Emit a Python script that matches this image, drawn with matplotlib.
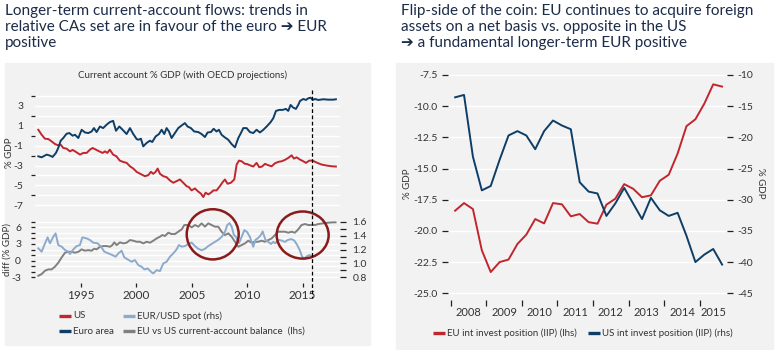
import matplotlib
matplotlib.use("Agg")
import matplotlib.pyplot as plt
from matplotlib.lines import Line2D
from matplotlib.patches import Rectangle, Ellipse
from matplotlib.ticker import FixedLocator, FormatStrFormatter

# ---- data: left chart, current account % GDP
ca_ea_years = [1991.15, 1991.45, 1991.9, 1992.2, 1992.44, 1992.74, 1992.95, 1993.17, 1993.4, 1993.7,
               1993.95, 1994.25, 1994.46, 1994.76, 1995.06, 1995.36, 1995.66, 1995.96, 1996.17, 1996.41,
               1996.71, 1997.0, 1997.3, 1997.6, 1997.9, 1998.16, 1998.46, 1998.76, 1999.12, 1999.42,
               1999.72, 1999.87, 2000.02, 2000.17, 2000.41, 2000.62, 2000.92, 2001.22, 2001.43, 2001.74,
               2002.04, 2002.28, 2002.52, 2002.73, 2002.94, 2003.18, 2003.48, 2003.78, 2004.08, 2004.38,
               2004.62, 2004.92, 2005.22, 2005.59, 2005.89, 2006.19, 2006.43, 2006.73, 2006.97, 2007.24,
               2007.45, 2007.69, 2007.99, 2008.29, 2008.59, 2008.9, 2009.2, 2009.45, 2009.65, 2009.95,
               2010.25, 2010.55, 2010.85, 2011.15, 2011.46, 2011.76, 2012.12, 2012.36, 2012.6, 2012.9,
               2013.2, 2013.5, 2013.71, 2013.92, 2014.16, 2014.4, 2014.61, 2014.77, 2015.07, 2015.31,
               2015.52, 2015.73, 2015.91, 2016.12, 2016.42, 2016.87, 2017.32, 2017.77, 2018.01]
ca_ea = [-2.07, -2.17, -1.9, -2.0, -2.13, -1.73, -1.23, -0.5, -0.23, 0.2,
         0.27, 0.0, 0.1, -0.23, 0.6, 0.33, 0.27, 0.43, 0.77, 0.37,
         0.93, 0.77, 1.1, 1.37, 1.5, 0.5, 0.93, 0.6, 0.17, 0.77,
         0.17, -0.07, -0.33, -0.4, -0.3, -1.07, -0.73, -0.5, -0.63, -0.07,
         0.17, 0.6, 0.17, 0.77, 0.43, -0.23, 0.27, 0.77, 1.03, 1.27,
         0.93, 0.77, 0.43, 0.37, 0.17, -0.13, 0.33, 0.37, 0.7, 0.43,
         0.6, 0.1, -0.17, -0.4, -0.83, -1.17, -0.23, 0.3, 0.77, 0.77,
         0.37, 0.27, 0.6, 0.33, 0.6, 0.93, 1.37, 1.77, 2.5, 2.6,
         2.6, 2.7, 2.5, 3.1, 2.83, 2.7, 3.1, 3.5, 3.7, 3.6,
         3.77, 3.83, 3.6, 3.7, 3.6, 3.67, 3.63, 3.63, 3.67]

ca_us_years = [1991.15, 1991.45, 1991.75, 1992.05, 1992.35, 1992.65, 1992.95, 1993.17, 1993.4, 1993.7,
               1994.0, 1994.25, 1994.55, 1994.91, 1995.21, 1995.51, 1995.81, 1996.05, 1996.35, 1996.65,
               1996.96, 1997.17, 1997.38, 1997.6, 1997.9, 1998.2, 1998.5, 1998.8, 1999.12, 1999.42,
               1999.72, 2000.02, 2000.47, 2000.77, 2001.07, 2001.31, 2001.52, 2001.74, 2001.92, 2002.13,
               2002.43, 2002.73, 2003.03, 2003.33, 2003.63, 2003.93, 2004.23, 2004.53, 2004.74, 2004.98,
               2005.29, 2005.53, 2005.83, 2006.04, 2006.25, 2006.49, 2006.73, 2006.94, 2007.24, 2007.54,
               2007.75, 2007.99, 2008.23, 2008.53, 2008.84, 2009.05, 2009.26, 2009.5, 2009.8, 2009.95,
               2010.25, 2010.55, 2010.85, 2011.09, 2011.34, 2011.61, 2011.91, 2012.21, 2012.51, 2012.81,
               2013.11, 2013.41, 2013.71, 2014.01, 2014.22, 2014.46, 2014.77, 2015.07, 2015.31, 2015.61,
               2015.91, 2016.27, 2016.72, 2017.17, 2017.62, 2018.01]
ca_us = [0.6, 0.1, -0.3, -0.33, -0.57, -0.83, -0.97, -0.9, -1.23, -1.3,
         -1.57, -1.43, -1.63, -1.9, -1.73, -1.73, -1.4, -1.23, -1.4, -1.57,
         -1.73, -1.57, -1.73, -1.4, -1.9, -2.07, -2.5, -2.63, -2.73, -3.07,
         -3.3, -3.63, -3.9, -4.07, -3.97, -3.63, -3.83, -3.63, -3.3, -3.83,
         -4.07, -4.17, -4.5, -4.73, -4.57, -4.4, -4.73, -5.07, -5.17, -5.5,
         -5.3, -5.57, -5.83, -6.17, -5.73, -5.9, -5.73, -5.5, -5.5, -5.07,
         -4.73, -4.4, -4.83, -4.73, -4.4, -2.9, -2.5, -2.57, -2.83, -2.83,
         -2.97, -3.1, -2.73, -3.17, -3.1, -2.83, -2.97, -3.07, -2.77, -2.63,
         -2.57, -2.43, -2.23, -1.97, -2.3, -2.17, -2.4, -2.57, -2.73, -2.5,
         -2.5, -2.7, -2.9, -3.0, -3.07, -3.1]

# EU vs US current-account balance (lhs, % GDP)
diff_years = [1991.15, 1991.45, 1991.75, 1992.05, 1992.35, 1992.65, 1992.95, 1993.26, 1993.56, 1993.86,
              1994.16, 1994.46, 1994.76, 1995.06, 1995.36, 1995.66, 1995.96, 1996.2, 1996.41, 1996.71,
              1997.02, 1997.32, 1997.62, 1997.83, 1998.01, 1998.22, 1998.52, 1998.82, 1999.12, 1999.42,
              1999.72, 2000.02, 2000.32, 2000.63, 2000.93, 2001.23, 2001.53, 2001.83, 2002.13, 2002.34,
              2002.58, 2002.88, 2003.18, 2003.48, 2003.78, 2004.09, 2004.33, 2004.69, 2004.99, 2005.29,
              2005.59, 2005.89, 2006.19, 2006.49, 2006.79, 2007.09, 2007.39, 2007.69, 2007.99, 2008.3,
              2008.6, 2008.9, 2009.2, 2009.5, 2009.8, 2010.1, 2010.4, 2010.7, 2011.0, 2011.3,
              2011.6, 2011.91, 2012.21, 2012.51, 2012.81, 2013.11, 2013.41, 2013.71, 2014.01, 2014.31,
              2014.61, 2014.91, 2015.22, 2015.52, 2015.82, 2016.12, 2016.42, 2016.87, 2017.32, 2017.77,
              2017.98]
ca_diff = [-2.7, -2.4, -1.8, -1.56, -1.56, -1.08, -0.37, 0.6, 1.43, 1.6,
           1.6, 1.43, 1.6, 2.03, 1.79, 1.9, 1.79, 2.15, 2.03, 2.5,
           2.63, 2.63, 2.5, 2.8, 3.29, 2.8, 3.29, 3.1, 3.23, 3.7,
           3.59, 3.4, 3.4, 3.1, 3.4, 3.23, 3.59, 4.0, 4.3, 4.6,
           4.43, 5.02, 4.78, 4.78, 5.2, 5.62, 6.4, 6.4, 5.98, 6.4,
           6.1, 6.7, 6.1, 6.7, 6.4, 6.1, 6.1, 5.2, 4.6, 4.9,
           4.3, 3.4, 2.5, 2.8, 3.1, 3.59, 3.23, 3.4, 3.4, 3.59,
           3.4, 3.7, 4.0, 4.6, 5.2, 5.2, 5.2, 5.02, 5.2, 5.02,
           5.62, 6.4, 6.58, 6.4, 6.4, 6.4, 6.58, 6.7, 6.82, 6.88,
           6.88]

# EUR/USD spot (rhs)
fx_years = [1991.15, 1991.45, 1991.69, 1991.99, 1992.2, 1992.5, 1992.71, 1992.95, 1993.26, 1993.56,
            1993.86, 1994.01, 1994.31, 1994.61, 1994.91, 1995.12, 1995.51, 1995.81, 1996.11, 1996.5,
            1996.81, 1997.11, 1997.47, 1997.83, 1998.13, 1998.37, 1998.67, 1998.91, 1999.21, 1999.57,
            1999.87, 2000.17, 2000.48, 2000.72, 2001.02, 2001.32, 2001.53, 2001.83, 2002.13, 2002.43,
            2002.73, 2003.03, 2003.33, 2003.63, 2003.84, 2004.09, 2004.39, 2004.69, 2004.99, 2005.29,
            2005.59, 2005.89, 2006.19, 2006.49, 2006.79, 2007.09, 2007.39, 2007.69, 2007.99, 2008.2,
            2008.4, 2008.6, 2008.8, 2009.0, 2009.25, 2009.5, 2009.75, 2010.0, 2010.25, 2010.4,
            2010.55, 2010.75, 2010.95, 2011.2, 2011.4, 2011.65, 2011.9, 2012.15, 2012.35, 2012.55,
            2012.8, 2013.1, 2013.4, 2013.7, 2014.0, 2014.25, 2014.5, 2014.75, 2014.95, 2015.15,
            2015.35, 2015.6, 2015.82]
eurusd = [1.217, 1.169, 1.265, 1.375, 1.289, 1.384, 1.432, 1.265, 1.241, 1.193,
          1.169, 1.135, 1.202, 1.25, 1.265, 1.375, 1.36, 1.337, 1.298, 1.289,
          1.241, 1.169, 1.145, 1.121, 1.097, 1.145, 1.183, 1.087, 1.059, 1.025,
          1.049, 0.977, 0.953, 0.915, 0.929, 0.881, 0.857, 0.905, 0.891, 1.001,
          1.025, 1.097, 1.145, 1.202, 1.265, 1.241, 1.25, 1.28, 1.30, 1.25,
          1.21, 1.19, 1.21, 1.25, 1.28, 1.31, 1.34, 1.38, 1.45, 1.55,
          1.58, 1.53, 1.41, 1.38, 1.29, 1.38, 1.48, 1.45, 1.38, 1.31,
          1.24, 1.34, 1.36, 1.40, 1.46, 1.34, 1.31, 1.28, 1.31, 1.29,
          1.34, 1.33, 1.31, 1.34, 1.35, 1.33, 1.27, 1.19, 1.10, 1.07,
          1.10, 1.12, 1.11]

# ---- data: right chart, international investment position (quarterly)
quarters = [f"{y}Q{q}" for y in range(2008, 2016) for q in range(1, 5)][:31]
eu_iip = [-18.38, -17.77, -18.25, -21.55, -23.3, -22.5, -22.3, -21.05, -20.3, -19.05,
          -19.4, -17.77, -17.87, -18.83, -18.65, -19.3, -19.42, -17.9, -17.42, -16.25,
          -16.62, -17.3, -17.15, -15.98, -15.5, -13.8, -11.6, -11.05, -9.8, -8.25, -8.43]
us_iip = [-13.58, -13.2, -23.1, -28.5, -27.8, -23.6, -19.7, -19.0, -19.7, -21.9,
          -19.0, -17.3, -18.1, -18.7, -27.2, -28.7, -29.0, -32.6, -30.6, -28.1,
          -30.6, -33.1, -29.7, -31.7, -32.6, -32.1, -35.8, -40.0, -38.8, -37.9, -40.4]
year_labels = ["2008", "2009", "2010", "2011", "2012", "2013", "2014", "2015"]

RED = "#c0262d"
NAVY = "#0e3d66"
LIGHT = "#8cabcc"
GREY = "#808080"
CIRCLE = "#8b1a1a"
PANEL = "#f2f2f2"
TXT = "#333333"
TITLE = "#1b2b48"

plt.rcParams["font.family"] = ["Lato", "DejaVu Sans"]
plt.rcParams["axes.unicode_minus"] = False
W, H = 777, 350
fig = plt.figure(figsize=(W / 100, H / 100), dpi=100)


def px(x0, y0, x1, y1):
    # pixel box (from top-left) -> figure fraction rect
    return [x0 / W, 1 - y1 / H, (x1 - x0) / W, (y1 - y0) / H]


def clean(ax):
    for sp in ax.spines.values():
        sp.set_visible(False)
    ax.patch.set_visible(False)


def legend_item(x, y, color, label):
    fig.add_artist(Line2D([x / W, (x + 12) / W], [1 - y / H] * 2, color=color, lw=2.4,
                          transform=fig.transFigure, solid_capstyle="butt"))
    fig.text((x + 14) / W, 1 - y / H, label, fontsize=7, color=TXT, va="center")


# panels (behind the axes)
for x0, y0, x1, y1 in [(5, 63, 370, 345), (396, 63, 773, 349)]:
    fig.patches.append(Rectangle((x0 / W, 1 - y1 / H), (x1 - x0) / W, (y1 - y0) / H,
                                 transform=fig.transFigure, color=PANEL, zorder=-5))

# titles
fig.text(5 / W, 1 - 4 / H, "Longer-term current-account flows: trends in\n"
         "relative CAs set are in favour of the euro ➔ EUR\npositive",
         fontsize=11, color=TITLE, va="top", ha="left", linespacing=1.2)
fig.text(401 / W, 1 - 4 / H, "Flip-side of the coin: EU continues to acquire foreign\n"
         "assets on a net basis vs. opposite in the US\n➔ a fundamental longer-term EUR positive",
         fontsize=11, color=TITLE, va="top", ha="left", linespacing=1.2)

# ---- left chart, top panel
XL = (1990.85, 2018.38)
ax1 = fig.add_axes(px(35, 94, 340, 207.3))
clean(ax1)
ax1.plot(ca_us_years, ca_us, color=RED, lw=1.4)
ax1.plot(ca_ea_years, ca_ea, color=NAVY, lw=1.4)
ax1.set_xlim(*XL)
ax1.set_ylim(-7.2, 4.2)
ax1.yaxis.set_major_locator(FixedLocator([-7, -5, -3, -1, 1, 3]))
ax1.yaxis.set_minor_locator(FixedLocator([-6, -4, -2, 0, 2, 4]))
ax1.tick_params(axis="y", which="major", length=0, pad=8.5, labelsize=7.5, labelcolor=TXT)
ax1.tick_params(axis="y", which="minor", length=3, width=0.9, color="#222222", direction="out")
ax1.tick_params(axis="x", bottom=False, labelbottom=False)
ax1.grid(True, which="both", axis="y", color="white", lw=1)
ax1.set_axisbelow(True)
fig.text(183 / W, 1 - 75.5 / H, "Current account % GDP (with OECD projections)",
         fontsize=7, color=TXT, ha="center", va="center")
fig.text(10 / W, 1 - 153 / H, "% GDP", rotation=90, fontsize=7, color=TXT, ha="center", va="center")

# ---- left chart, bottom panel
ax2 = fig.add_axes(px(35, 220, 340, 283))
clean(ax2)
ax2.plot(diff_years, ca_diff, color=GREY, lw=1.4, zorder=3)
ax2.set_xlim(*XL)
ax2.set_ylim(-4.0, 7.3)
ax2.yaxis.set_major_locator(FixedLocator([-3, 0, 3, 6]))
ax2.yaxis.set_minor_locator(FixedLocator([-2, -1, 1, 2, 4, 5, 7]))
ax2.tick_params(axis="y", which="both", length=3, width=0.9, color="#222222", direction="out")
ax2.tick_params(axis="y", which="major", pad=7, labelsize=7.5, labelcolor=TXT)
ax2.set_xticks([1995, 2000, 2005, 2010, 2015])
ax2.tick_params(axis="x", length=3, width=0.9, color="#222222", direction="out", pad=2,
                labelsize=8.5, labelcolor=TXT)
ax2.grid(True, which="both", axis="y", color="white", lw=1)
ax2.set_axisbelow(True)

ax2r = ax2.twinx()
clean(ax2r)
ax2r.plot(fx_years, eurusd, color=LIGHT, lw=1.4, zorder=2)
ax2r.set_ylim(0.8 + (-4.0 + 3) * 0.08, 0.8 + (7.3 + 3) * 0.08)
ax2r.yaxis.set_major_locator(FixedLocator([0.8, 1.0, 1.2, 1.4, 1.6]))
ax2r.yaxis.set_minor_locator(FixedLocator([0.9, 1.1, 1.3, 1.5]))
ax2r.yaxis.set_major_formatter(FormatStrFormatter("%.1f"))
ax2r.tick_params(axis="y", which="both", length=4, width=0.9, color="#222222", direction="out")
ax2r.tick_params(axis="y", which="major", pad=5, labelsize=7.5, labelcolor=TXT)
for cx, cy, w, h in [(2006.89, 4.73, 4.69, 9.0), (2015.01, 4.6, 4.69, 8.45)]:
    ax2r.add_patch(Ellipse((cx, 0.8 + (cy + 3) * 0.08), w, h * 0.08, fill=False, ec=CIRCLE,
                           lw=1.8, clip_on=False, zorder=5))
fig.text(7 / W, 1 - 250 / H, "diff (% GDP)", rotation=90, fontsize=7, color=TXT,
         ha="center", va="center")

# projection marker
xd = 35 + (2015.88 - XL[0]) / (XL[1] - XL[0]) * 305
fig.add_artist(Line2D([xd / W, xd / W], [1 - 90 / H, 1 - 298 / H], color="black", lw=0.9,
                      ls=(0, (3, 2)), transform=fig.transFigure))

legend_item(59, 316, RED, "US")
legend_item(59, 331, NAVY, "Euro area")
legend_item(123, 316, LIGHT, "EUR/USD spot (rhs)")
legend_item(123, 331, GREY, "EU vs US current-account balance  (lhs)")

# ---- right chart
idx = list(range(len(quarters)))
ax3 = fig.add_axes(px(448, 68.75, 727, 299.5))
clean(ax3)
ax3.plot(idx, eu_iip, color=RED, lw=1.4, zorder=3)
ax3.set_xlim(-0.8, 30.55)
ax3.set_ylim(-25.5, -7.0)
ax3.yaxis.set_major_locator(FixedLocator([-25, -22.5, -20, -17.5, -15, -12.5, -10, -7.5]))
ax3.yaxis.set_major_formatter(FormatStrFormatter("%.1f"))
ax3.tick_params(axis="y", length=4, width=0.9, color="#222222", direction="out", pad=3.5,
                labelsize=7.5, labelcolor=TXT)
ax3.grid(True, axis="y", color="white", lw=1)
ax3.set_axisbelow(True)
bounds = [i - 0.5 for i in range(0, len(quarters), 4)]
centers = [min(i + 1.5, len(quarters) - 2) for i in range(0, len(quarters), 4)]
ax3.xaxis.set_major_locator(FixedLocator(bounds))
ax3.xaxis.set_minor_locator(FixedLocator(centers))
ax3.set_xticklabels([], minor=False)
ax3.set_xticklabels(year_labels, minor=True)
ax3.tick_params(axis="x", which="major", length=4, width=0.9, color="#222222", direction="out")
ax3.tick_params(axis="x", which="minor", length=0, pad=5.5, labelsize=8, labelcolor=TXT)

ax3r = ax3.twinx()
clean(ax3r)
ax3r.plot(idx, us_iip, color=NAVY, lw=1.4, zorder=3)
ax3r.set_ylim(-46, -9)
ax3r.yaxis.set_major_locator(FixedLocator([-45, -40, -35, -30, -25, -20, -15, -10]))
ax3r.tick_params(axis="y", length=4, width=0.9, color="#222222", direction="out", pad=3.5,
                 labelsize=7.5, labelcolor=TXT)
fig.text(408 / W, 1 - 184 / H, "% GDP", rotation=90, fontsize=7, color=TXT, ha="center", va="center")
fig.text(760 / W, 1 - 183 / H, "% GDP", rotation=270, fontsize=7, color=TXT, ha="center", va="center")

legend_item(433, 333, RED, "EU int invest position (IIP) (lhs)")
legend_item(588, 333, NAVY, "US int invest position (IIP) (rhs)")

fig.savefig("out.png", dpi=100)
